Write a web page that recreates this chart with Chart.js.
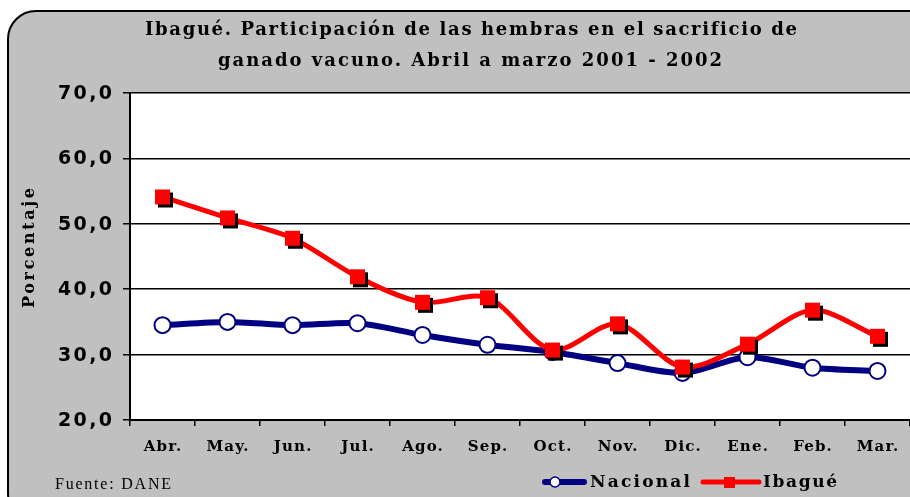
<!DOCTYPE html>
<html lang="es">
<head>
<meta charset="UTF-8">
<title>Ibagué - hembras sacrificio</title>
<script src="https://cdn.jsdelivr.net/npm/chart.js"></script>
<style>
    html, body { margin: 0; padding: 0; background: #ffffff; overflow: hidden; }
    #chart { display: block; }
</style>
</head>
<body>
<canvas id="chart" width="910" height="497"></canvas>
<script>
    // datos
    const meses = ['Abr.', 'May.', 'Jun.', 'Jul.', 'Ago.', 'Sep.', 'Oct.', 'Nov.', 'Dic.', 'Ene.', 'Feb.', 'Mar.'];
    const nacional = [34.5, 35.0, 34.5, 34.8, 33.0, 31.5, 30.4, 28.7, 27.2, 29.6, 28.0, 27.5];
    const ibague = [54.1, 50.9, 47.8, 41.9, 38.0, 38.7, 30.7, 34.7, 28.1, 31.6, 36.8, 32.8];
    const tituloLineas = ['Ibagué. Participación de las hembras en el sacrificio de', 'ganado vacuno. Abril a marzo 2001 - 2002'];

    const AZUL = '#000080';
    const ROJO = '#ff0000';
    const GRIS = '#c0c0c0';
    const SERIF = '"DejaVu Serif"';

    // marcador cuadrado rojo con sombra negra
    const cuadro = document.createElement('canvas');
    cuadro.width = 23;
    cuadro.height = 23;
    const cc = cuadro.getContext('2d');
    cc.fillStyle = '#000000';
    cc.fillRect(7, 7, 15, 15);
    cc.fillStyle = ROJO;
    cc.fillRect(4, 4, 15, 15);

    // texto con espaciado para llenar un ancho dado
    function textoAncho(ctx, txt, x, y, font, ancho, align) {
        ctx.save();
        ctx.font = font;
        ctx.letterSpacing = '0px';
        const w0 = ctx.measureText(txt).width;
        const sp = txt.length > 1 ? (ancho - w0) / (txt.length - 1) : 0;
        ctx.letterSpacing = sp + 'px';
        let x0 = x;
        if (align === 'center') x0 = x - ancho / 2;
        if (align === 'right') x0 = x - ancho;
        ctx.textAlign = 'left';
        ctx.textBaseline = 'middle';
        ctx.fillStyle = '#000000';
        ctx.fillText(txt, x0, y);
        ctx.restore();
    }

    function textoSp(ctx, txt, x, y, font, sp, align) {
        ctx.save();
        ctx.font = font;
        ctx.letterSpacing = '0px';
        const w = ctx.measureText(txt).width + sp * (txt.length - 1);
        ctx.restore();
        textoAncho(ctx, txt, x, y, font, w, align);
    }

    const fondo = {
        id: 'fondo',
        beforeDraw(chart) {
            const ctx = chart.ctx;
            const a = chart.chartArea;
            ctx.save();
            ctx.beginPath();
            ctx.roundRect(8, 11, 940, 510, 28);
            ctx.fillStyle = GRIS;
            ctx.fill();
            ctx.lineWidth = 2;
            ctx.strokeStyle = '#000000';
            ctx.stroke();
            ctx.fillStyle = '#ffffff';
            ctx.fillRect(a.left, a.top, a.right - a.left, a.bottom - a.top);
            ctx.restore();
        },
        afterDraw(chart) {
            const ctx = chart.ctx;
            const xs = chart.scales.x;
            const ys = chart.scales.y;

            // titulo
            textoAncho(ctx, tituloLineas[0], 471, 30, 'bold 18px ' + SERIF, 652, 'center');
            textoAncho(ctx, tituloLineas[1], 470, 61, 'bold 18px ' + SERIF, 504, 'center');

            // etiquetas eje y
            ys.ticks.forEach(function (t) {
                const y = ys.getPixelForValue(t.value);
                const txt = t.value.toFixed(1).replace('.', ',');
                textoAncho(ctx, txt, 112, y + 1, 'bold 19px "DejaVu Sans"', 54, 'right');
            });

            // etiquetas eje x
            meses.forEach(function (m, i) {
                const x = xs.getPixelForValue(i);
                textoSp(ctx, m, x, 447, 'bold 15px ' + SERIF, 1.2, 'center');
            });

            // titulo eje y
            ctx.save();
            ctx.translate(30, 248);
            ctx.rotate(-Math.PI / 2);
            textoAncho(ctx, 'Porcentaje', 0, 0, 'bold 16px ' + SERIF, 120, 'center');
            ctx.restore();

            // fuente
            textoAncho(ctx, 'Fuente: DANE', 55, 485, '16px "Liberation Serif"', 116, 'left');

            // leyenda
            ctx.save();
            ctx.lineCap = 'round';
            ctx.strokeStyle = AZUL;
            ctx.lineWidth = 6;
            ctx.beginPath();
            ctx.moveTo(545, 482);
            ctx.lineTo(584, 482);
            ctx.stroke();
            ctx.beginPath();
            ctx.arc(555, 482, 5, 0, Math.PI * 2);
            ctx.fillStyle = '#ffffff';
            ctx.fill();
            ctx.lineWidth = 1.5;
            ctx.stroke();
            ctx.strokeStyle = ROJO;
            ctx.lineWidth = 5;
            ctx.beginPath();
            ctx.moveTo(703, 482);
            ctx.lineTo(759, 482);
            ctx.stroke();
            ctx.fillStyle = ROJO;
            ctx.fillRect(724, 477, 11, 11);
            ctx.restore();
            textoAncho(ctx, 'Nacional', 590, 483, 'bold 17px ' + SERIF, 100, 'left');
            textoAncho(ctx, 'Ibagué', 763, 483, 'bold 17px ' + SERIF, 74, 'left');
        }
    };

    new Chart(document.getElementById('chart').getContext('2d'), {
        type: 'line',
        data: {
            labels: meses,
            datasets: [
                {
                    label: 'Nacional',
                    data: nacional,
                    borderColor: AZUL,
                    borderWidth: 6,
                    tension: 0.3,
                    pointStyle: 'circle',
                    pointRadius: 8,
                    pointBorderWidth: 2,
                    pointBorderColor: AZUL,
                    pointBackgroundColor: '#ffffff',
                    order: 2
                },
                {
                    label: 'Ibagué',
                    data: ibague,
                    borderColor: ROJO,
                    borderWidth: 5,
                    tension: 0.3,
                    pointStyle: cuadro,
                    pointRadius: 10,
                    order: 1
                }
            ]
        },
        options: {
            responsive: false,
            animation: false,
            events: [],
            layout: { autoPadding: false, padding: { left: 0, right: 0, top: 93, bottom: 0 } },
            plugins: {
                legend: { display: false },
                title: { display: false },
                tooltip: { enabled: false }
            },
            scales: {
                x: {
                    offset: true,
                    grid: {
                        offset: true,
                        drawOnChartArea: false,
                        drawTicks: true,
                        tickLength: 6,
                        color: '#000000',
                        lineWidth: 1.5
                    },
                    border: { color: '#000000', width: 2 },
                    ticks: { display: false },
                    afterFit(scale) { scale.height = 77; }
                },
                y: {
                    min: 20,
                    max: 70,
                    ticks: { stepSize: 10, display: false },
                    grid: {
                        color: '#000000',
                        lineWidth: 1.5,
                        drawTicks: true,
                        tickLength: 7
                    },
                    border: { color: '#000000', width: 2 },
                    afterFit(scale) { scale.width = 130; }
                }
            }
        },
        plugins: [fondo]
    });
</script>
</body>
</html>
